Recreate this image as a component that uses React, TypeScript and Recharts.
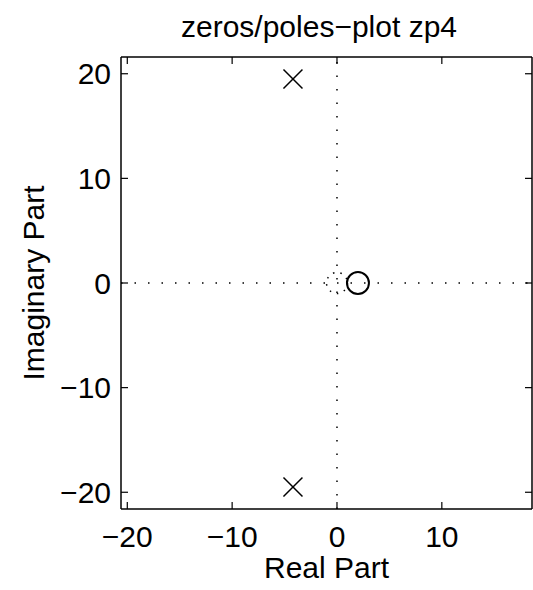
import React from "react";
import {
  ScatterChart,
  Scatter,
  XAxis,
  YAxis,
  ReferenceLine,
  ReferenceDot,
} from "recharts";

type Point = {
  re: number;
  im: number;
};

const poleRe: number[] = [-4.2, -4.2];
const poleIm: number[] = [19.5, -19.5];
const zeroRe: number[] = [2];
const zeroIm: number[] = [0];

const xTicks: number[] = [-20, -10, 0, 10];
const yTicks: number[] = [-20, -10, 0, 10, 20];
const xDomain: [number, number] = [-20.6, 18.6];
const yDomain: [number, number] = [-21.6, 21.6];

const poles: Point[] = poleRe.map((re, i) => ({ re, im: poleIm[i] }));
const zeros: Point[] = zeroRe.map((re, i) => ({ re, im: zeroIm[i] }));

const WIDTH = 533;
const HEIGHT = 590;
const MARGIN = { top: 56, right: 0, left: 0, bottom: 0 };
const Y_AXIS_W = 121;
const X_AXIS_H = 81;
const FONT = "'Liberation Sans', Arial, Helvetica, sans-serif";

// pixels per unit, used for the unit circle radius
const plotW = WIDTH - MARGIN.left - MARGIN.right - Y_AXIS_W - 1;
const unitPx = plotW / (xDomain[1] - xDomain[0]);

const fmt = (v: number) => (v < 0 ? "\u2212" + Math.abs(v) : String(v));

const Cross = (props: any) => {
  const { cx, cy } = props;
  const s = 9.5;
  return (
    <g stroke="#000" strokeWidth={1.5}>
      <line x1={cx - s} y1={cy - s} x2={cx + s} y2={cy + s} />
      <line x1={cx - s} y1={cy + s} x2={cx + s} y2={cy - s} />
    </g>
  );
};

const Ring = (props: any) => {
  const { cx, cy } = props;
  return <circle cx={cx} cy={cy} r={11} fill="none" stroke="#000" strokeWidth={2} />;
};

const tickStyle = { fill: "#000", fontSize: 30, fontFamily: FONT };
const axisLine = { stroke: "#000", strokeWidth: 1.5 };
const tickLine = { stroke: "#000", strokeWidth: 1.2 };

const ZPlane: React.FC = () => {
  return (
    <div style={{ position: "absolute", left: 0, top: 0, width: WIDTH, height: HEIGHT, background: "#fff" }}>
      <div
        style={{
          position: "absolute",
          left: 319,
          top: 12,
          transform: "translateX(-50%)",
          whiteSpace: "nowrap",
          fontFamily: FONT,
          fontSize: 30,
          lineHeight: "30px",
          color: "#000",
        }}
      >
        zeros/poles{"\u2212"}plot zp4
      </div>
      <ScatterChart width={WIDTH} height={HEIGHT} margin={MARGIN}>
        <XAxis
          type="number"
          dataKey="re"
          xAxisId="b"
          domain={xDomain}
          ticks={xTicks}
          allowDataOverflow
          height={X_AXIS_H}
          tickSize={-7}
          tickMargin={24}
          tick={tickStyle}
          tickFormatter={fmt}
          axisLine={axisLine}
          tickLine={tickLine}
          label={{ value: "Real Part", position: "insideBottom", offset: 12, fill: "#000", fontSize: 30, fontFamily: FONT }}
        />
        <XAxis
          type="number"
          dataKey="re"
          xAxisId="t"
          orientation="top"
          domain={xDomain}
          ticks={xTicks}
          allowDataOverflow
          height={1}
          tickSize={-7}
          tickFormatter={() => ""}
          axisLine={axisLine}
          tickLine={tickLine}
        />
        <YAxis
          type="number"
          dataKey="im"
          yAxisId="l"
          domain={yDomain}
          ticks={yTicks}
          allowDataOverflow
          width={Y_AXIS_W}
          tickSize={-7}
          tickMargin={17}
          tick={tickStyle}
          tickFormatter={fmt}
          axisLine={axisLine}
          tickLine={tickLine}
          label={{
            value: "Imaginary Part",
            angle: -90,
            position: "insideLeft",
            offset: 33,
            fill: "#000",
            fontSize: 30,
            fontFamily: FONT,
            style: { textAnchor: "middle" },
          }}
        />
        <YAxis
          type="number"
          dataKey="im"
          yAxisId="r"
          orientation="right"
          domain={yDomain}
          ticks={yTicks}
          allowDataOverflow
          width={1}
          tickSize={-7}
          tickFormatter={() => ""}
          axisLine={axisLine}
          tickLine={tickLine}
        />
        <ReferenceLine xAxisId="b" yAxisId="l" x={0} stroke="#000" strokeWidth={1.5} strokeDasharray="1.5 12" />
        <ReferenceLine xAxisId="b" yAxisId="l" y={0} stroke="#000" strokeWidth={1.5} strokeDasharray="1.5 12" />
        <ReferenceDot
          xAxisId="b"
          yAxisId="l"
          x={0}
          y={0}
          r={unitPx}
          fill="none"
          stroke="#000"
          strokeWidth={1.5}
          strokeDasharray="1.5 6"
        />
        <Scatter xAxisId="b" yAxisId="l" data={poles} shape={Cross} isAnimationActive={false} />
        <Scatter xAxisId="b" yAxisId="l" data={zeros} shape={Ring} isAnimationActive={false} />
        <Scatter xAxisId="t" yAxisId="r" data={[]} isAnimationActive={false} />
      </ScatterChart>
    </div>
  );
};

export default function App() {
  return <ZPlane />;
}
